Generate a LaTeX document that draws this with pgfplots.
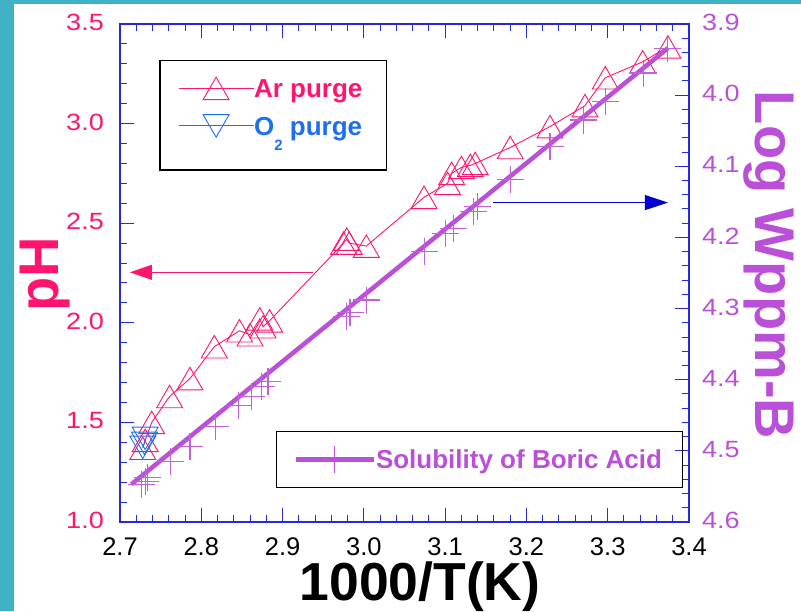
\documentclass[border=0pt]{standalone}
\usepackage{fontspec}
\setmainfont{Liberation Sans}
\newfontfamily\tickfont[FakeStretch=1.15]{Liberation Sans}
\usepackage{pgfplots}
\pgfplotsset{compat=1.18}
\usetikzlibrary{arrows.meta}
\definecolor{bgteal}{RGB}{64,176,196}
\definecolor{phpink}{RGB}{255,20,110}
\definecolor{otblue}{RGB}{30,110,240}
\definecolor{bpurple}{RGB}{185,80,215}
\definecolor{axblue}{RGB}{40,40,220}
\definecolor{arrblue}{RGB}{0,0,210}

\pgfdeclareplotmark{tup}{%
 \pgfpathmoveto{\pgfqpoint{0pt}{0.75\pgfplotmarksize}}%
 \pgfpathlineto{\pgfqpoint{-0.866\pgfplotmarksize}{-0.75\pgfplotmarksize}}%
 \pgfpathlineto{\pgfqpoint{0.866\pgfplotmarksize}{-0.75\pgfplotmarksize}}%
 \pgfpathclose\pgfusepathqstroke}
\pgfdeclareplotmark{tdown}{%
 \pgfpathmoveto{\pgfqpoint{0pt}{-0.75\pgfplotmarksize}}%
 \pgfpathlineto{\pgfqpoint{-0.866\pgfplotmarksize}{0.75\pgfplotmarksize}}%
 \pgfpathlineto{\pgfqpoint{0.866\pgfplotmarksize}{0.75\pgfplotmarksize}}%
 \pgfpathclose\pgfusepathqstroke}

\pgfplotsset{
 common/.style={
  at={(120pt,89pt)}, anchor=south west, scale only axis,
  width=569pt, height=498pt,
  xmin=2.7, xmax=3.4,
  tick align=inside,
  major tick length=14pt, minor tick length=7pt,
  axis line style={axblue,line width=1.3pt},
  every tick/.style={axblue,line width=1pt},
  /pgf/number format/assume math mode=true,
  legend cell align=left,
 }
}

\begin{document}
\begin{tikzpicture}
\useasboundingbox (0,0) rectangle (801pt,611pt);
\fill[bgteal] (0,0) rectangle (14pt,611pt);
\fill[bgteal] (0,607pt) rectangle (801pt,611pt);

\begin{axis}[common,
 ymin=1, ymax=3.5,
 xtick={2.7,2.8,2.9,3.0,3.1,3.2,3.3,3.4},
 minor x tick num=4,
 ytick={1,1.5,2,2.5,3,3.5},
 minor y tick num=4,
 ytick pos=left, xtick pos=both, xticklabel pos=bottom,
 xticklabel style={font=\fontsize{25.5}{26}\selectfont, inner sep=0pt, anchor=north, yshift=-15pt,
   /pgf/number format/.cd, fixed, fixed zerofill, precision=1},
 yticklabel style={font=\tickfont\fontsize{23.5}{24}\selectfont, text=phpink, inner sep=0pt, anchor=east, xshift=-16pt, yshift=1.5pt,
   /pgf/number format/.cd, fixed, fixed zerofill, precision=1},
 legend style={at={(0.1019,0.8936)}, anchor=north west, draw=none, fill=none, inner sep=0pt,
   row sep=15pt, font=\bfseries\fontsize{26}{30}\selectfont,
   nodes={inner sep=0pt, text depth=0pt},
   /tikz/every even column/.append style={column sep=10pt}},
 legend image code/.code={\draw[mark repeat=2,mark phase=2] plot coordinates {(0pt,0pt) (37.5pt,0pt) (75pt,0pt)};},
]
\addplot[phpink, line width=0.9pt, mark=tup, mark size=15pt] coordinates {
 (2.728,1.37) (2.731,1.41) (2.739,1.50) (2.761,1.63) (2.786,1.72) (2.816,1.88)
 (2.847,1.96) (2.860,1.94) (2.872,2.02) (2.876,1.98) (2.884,2.01)
 (2.975,2.40) (2.979,2.42) (2.982,2.40) (3.003,2.385)
 (3.074,2.63) (3.103,2.70) (3.108,2.75) (3.120,2.78) (3.131,2.79) (3.137,2.80)
 (3.180,2.88) (3.229,2.985) (3.272,3.09) (3.297,3.23) (3.343,3.31) (3.374,3.385)
};
\addlegendentry{\textcolor{phpink}{Ar purge}}
\addplot[otblue, line width=0.9pt, mark=tdown, mark size=15pt] coordinates {
 (2.728,1.375) (2.730,1.395) (2.731,1.42)
};
\addlegendentry{\textcolor{otblue}{O\raisebox{-15pt}{\fontsize{15}{15}\selectfont 2} purge}}
\draw[phpink, line width=1pt, -{Triangle[length=22pt,width=15pt]}] (axis cs:2.938,2.2535) -- (axis cs:2.7123,2.2535);
\draw[black, line width=1.2pt] (axis description cs:0.0703,0.9263) rectangle (axis description cs:0.4687,0.7068);
\end{axis}

\begin{axis}[common,
 hide x axis, axis y line*=right,
 ymin=3.9, ymax=4.6, y dir=reverse,
 ytick={3.9,4.0,4.1,4.2,4.3,4.4,4.5,4.6},
 minor y tick num=4,
 yticklabel style={font=\tickfont\fontsize{23.5}{24}\selectfont, text=bpurple, inner sep=0pt, anchor=west, xshift=13pt, yshift=1.5pt,
   /pgf/number format/.cd, fixed, fixed zerofill, precision=1},
 legend style={at={(0.3046,0.153)}, anchor=north west, draw=none, fill=none, inner sep=0pt,
   font=\bfseries\fontsize{26}{30}\selectfont,
   nodes={inner sep=0pt, text depth=0pt},
   /tikz/every even column/.append style={column sep=7.5pt}},
 legend image code/.code={\draw[mark repeat=2,mark phase=2] plot coordinates {(0pt,0pt) (39pt,0pt) (78pt,0pt)};},
]
\addplot[only marks, mark=+, mark size=13.5pt, mark options={bpurple!90, line width=1.2pt}, forget plot] coordinates {
 (2.726,4.547) (2.731,4.543) (2.734,4.538) (2.762,4.515) (2.786,4.494) (2.817,4.466)
 (2.846,4.436) (2.862,4.424) (2.874,4.410) (2.882,4.403)
 (2.979,4.311) (2.983,4.306) (3.003,4.288)
 (3.075,4.220) (3.100,4.194) (3.110,4.187) (3.135,4.164) (3.140,4.157)
 (3.180,4.119) (3.229,4.072) (3.270,4.035) (3.297,4.009) (3.344,3.969) (3.374,3.934)
};
\addplot[bpurple, line width=4.5pt,
 legend image post style={mark=+, mark size=13.5pt, mark options={line width=1.2pt}}] coordinates {
 (2.714,4.547) (3.374,3.934)
};
\addlegendentry{\textcolor{bpurple}{Solubility of Boric Acid}}
\draw[arrblue, line width=1pt, -{Triangle[length=23pt,width=15pt]}] (axis cs:3.159,4.151) -- (axis cs:3.374,4.151);
\draw[black, line width=1.2pt] (axis description cs:0.2754,0.1813) rectangle (axis description cs:0.9889,0.0689);
\end{axis}

\node[rotate=90, anchor=base, text=phpink, font=\bfseries\fontsize{56}{60}\selectfont] at (58pt,337pt) {pH};
\node[rotate=-90, anchor=base, text=bpurple, font=\bfseries\fontsize{56}{60}\selectfont] at (755pt,346pt) {Log Wppm-B};
\node[anchor=base, font=\bfseries\fontsize{53.5}{56}\selectfont] at (420pt,10.5pt) {1000/T(K)};
\end{tikzpicture}
\end{document}
